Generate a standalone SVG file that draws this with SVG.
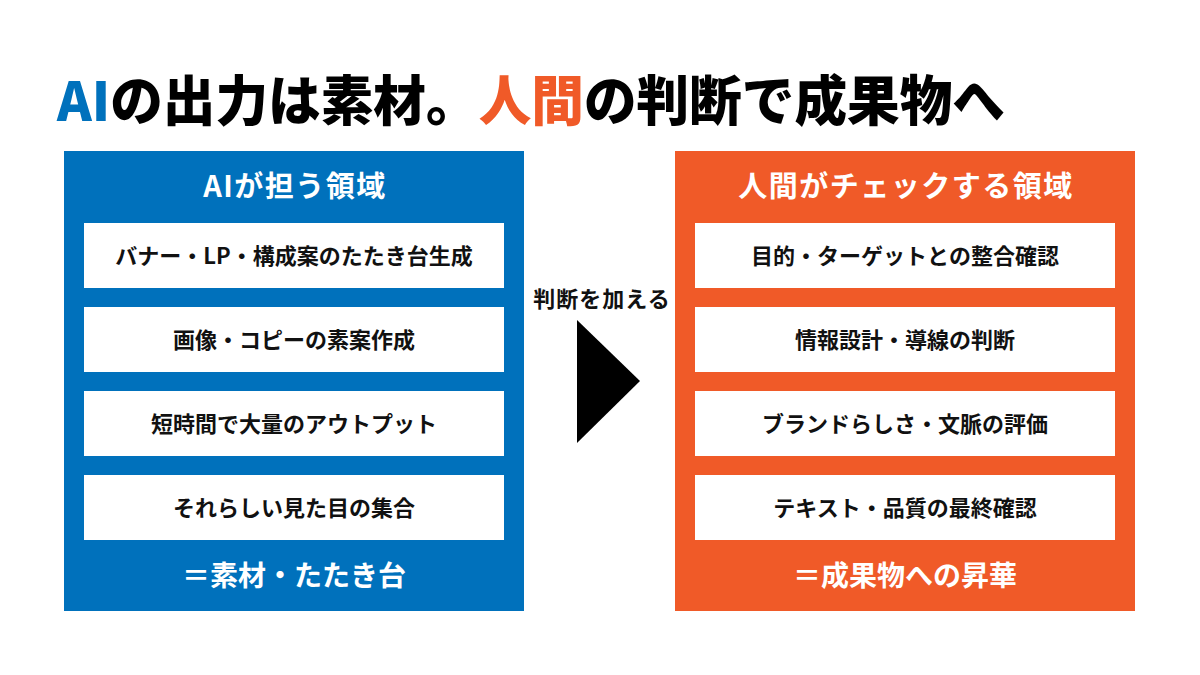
<svg xmlns="http://www.w3.org/2000/svg" width="1200" height="675" viewBox="0 0 1200 675">
<style>
text{font-family:"Noto Sans CJK JP","Noto Sans",sans-serif;text-anchor:middle}
.title{font-size:54px;font-weight:900;text-anchor:start;fill:#000}
.head{font-size:29px;font-weight:700;fill:#fff;letter-spacing:1.5px}
.item{font-size:22px;font-weight:700;fill:#111}
.foot{font-size:28px;font-weight:700;fill:#fff}
.box{fill:#fff}
.blue{fill:#0071BC}
.orange{fill:#F05A28}
</style>
<rect width="1200" height="675" fill="#fff"/>
<text class="title" x="57" y="121" textLength="948" lengthAdjust="spacingAndGlyphs"><tspan fill="#0071BC">AI</tspan>の出力は素材。<tspan fill="#F05A28">人間</tspan>の判断で成果物へ</text>
<g id="ai-area">
<rect class="blue" x="64" y="151" width="460" height="460"/>
<text class="head" x="295" y="197">AIが担う領域</text>
<rect class="box" x="84" y="223" width="420" height="65"/>
<text class="item" x="294" y="264">バナー・LP・構成案のたたき台生成</text>
<rect class="box" x="84" y="307" width="420" height="65"/>
<text class="item" x="294" y="348">画像・コピーの素案作成</text>
<rect class="box" x="84" y="391" width="420" height="65"/>
<text class="item" x="294" y="432">短時間で大量のアウトプット</text>
<rect class="box" x="84" y="475" width="420" height="65"/>
<text class="item" x="294" y="516">それらしい見た目の集合</text>
<text class="foot" x="294" y="586">＝素材・たたき台</text>
</g>
<g id="human-area">
<rect class="orange" x="675" y="151" width="460" height="460"/>
<text class="head" x="906" y="197">人間がチェックする領域</text>
<rect class="box" x="695" y="223" width="420" height="65"/>
<text class="item" x="905" y="264">目的・ターゲットとの整合確認</text>
<rect class="box" x="695" y="307" width="420" height="65"/>
<text class="item" x="905" y="348">情報設計・導線の判断</text>
<rect class="box" x="695" y="391" width="420" height="65"/>
<text class="item" x="905" y="432">ブランドらしさ・文脈の評価</text>
<rect class="box" x="695" y="475" width="420" height="65"/>
<text class="item" x="905" y="516">テキスト・品質の最終確認</text>
<text class="foot" x="905" y="586">＝成果物への昇華</text>
</g>
<g id="connector">
<text x="602" y="307" style="font-size:22px;font-weight:700;fill:#111;letter-spacing:1px">判断を加える</text>
<polygon points="577,320 640,381 577,443" fill="#000"/>
</g>
</svg>
